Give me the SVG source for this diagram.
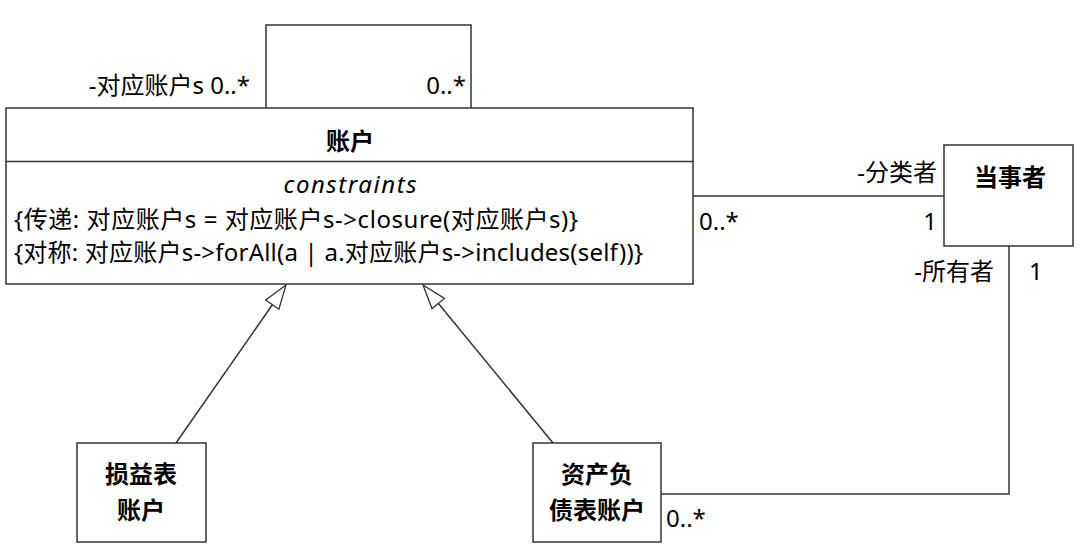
<svg xmlns="http://www.w3.org/2000/svg" width="1080" height="558" viewBox="0 0 1080 558">
<style>
text{font-family:"Noto Sans","Noto Sans CJK SC",sans-serif;font-size:24px;fill:#000}
.b{font-weight:bold}
.i{font-style:italic}
.m{text-anchor:middle}
.e{text-anchor:end}
.box{fill:#fff;stroke:#333;stroke-width:1.5}
.ln{fill:none;stroke:#333;stroke-width:1.5}
.tri{fill:#fff;stroke:#333;stroke-width:1.3}
</style>
<rect width="1080" height="558" fill="#fff"/>
<g id="connectors">
<polyline class="ln" points="266,108 266,25 471,25 471,108"/>
<line class="ln" x1="693" y1="196" x2="944" y2="196"/>
<polyline class="ln" points="1009,246 1009,494 661,494"/>
<line class="ln" x1="176" y1="443" x2="275" y2="301"/>
<line class="ln" x1="553" y1="443" x2="438" y2="303"/>
<polygon class="tri" points="286,285 265.7,300.1 278.9,309.3"/>
<polygon class="tri" points="423,285 444.4,298.4 432,308.6"/>
<text class="e" x="250" y="94">-对应账户s 0..*</text>
<text class="e" x="466" y="94">0..*</text>
<text class="e" x="937" y="181">-分类者</text>
<text class="e" x="937" y="230">1</text>
<text x="699" y="230">0..*</text>
<text class="e" x="994" y="280">-所有者</text>
<text x="1029" y="280">1</text>
<text x="666" y="527">0..*</text>
</g>
<g id="account">
<rect class="box" x="6" y="108" width="687" height="176"/>
<line class="ln" x1="6" y1="161.5" x2="693" y2="161.5"/>
<text class="b m" x="350" y="150">账户</text>
<text class="i m" x="350" y="193" textLength="133" lengthAdjust="spacing">constraints</text>
<text x="14" y="228" textLength="564" lengthAdjust="spacing">{传递: 对应账户s = 对应账户s-&gt;closure(对应账户s)}</text>
<text x="14" y="261" textLength="629" lengthAdjust="spacing">{对称: 对应账户s-&gt;forAll(a | a.对应账户s-&gt;includes(self))}</text>
</g>
<g id="party">
<rect class="box" x="944" y="145" width="129" height="101"/>
<text class="b m" x="1010" y="186">当事者</text>
</g>
<g id="income">
<rect class="box" x="77" y="443" width="129" height="99"/>
<text class="b m" x="141" y="483">损益表</text>
<text class="b m" x="141" y="519">账户</text>
</g>
<g id="balance">
<rect class="box" x="533" y="443" width="128" height="99"/>
<text class="b m" x="597" y="483">资产负</text>
<text class="b m" x="597" y="519">债表账户</text>
</g>
</svg>
